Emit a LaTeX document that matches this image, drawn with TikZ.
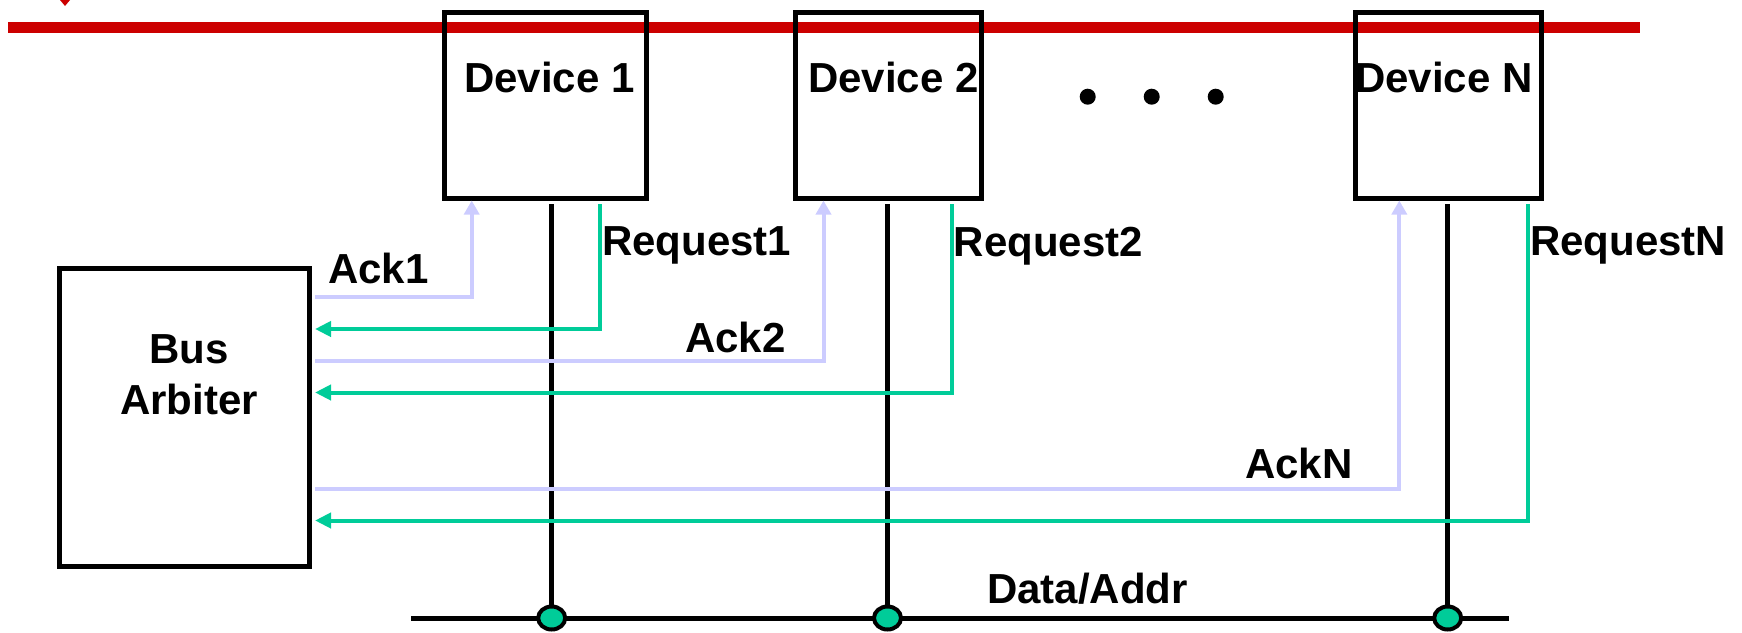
\documentclass[tikz,border=0pt]{standalone}
\usepackage{fontspec}
\setmainfont{Liberation Sans}
\usetikzlibrary{arrows.meta,shapes.geometric}

\definecolor{busred}{HTML}{CC0000}
\definecolor{reqgreen}{HTML}{00CC99}
\definecolor{acklav}{HTML}{CCCCFF}

\tikzset{
  box/.style={draw=black, line width=5pt, rectangle, inner sep=0pt},
  lbl/.style={inner sep=0pt, font=\fontsize{42}{50}\selectfont\bfseries},
  wire/.style={draw=black, line width=5pt},
  ackline/.style={draw=acklav, line width=4pt, shorten <=3.5pt,
    -{Triangle[length=14pt,width=15pt]}},
  reqline/.style={draw=reqgreen, line width=4pt, shorten <=3.5pt, shorten >=3.5pt,
    -{Triangle[length=16pt,width=15pt]}},
  tap/.style={ellipse, draw=black, fill=reqgreen, line width=4pt,
    minimum width=27pt, minimum height=23pt, inner sep=0pt},
  dotmark/.style={circle, fill=black, minimum size=16pt, inner sep=0pt},
}

\begin{document}
\begin{tikzpicture}[x=1pt, y=-1pt]
\useasboundingbox (0,0) rectangle (1742,632);

% system bus along the top
\fill[busred] (60,0) -- (70,0) -- (65,6) -- cycle;
\coordinate (redL) at (8,27.5);
\coordinate (redR) at (1640,27.5);
\draw[busred, line width=11pt] (redL) -- (redR);

% devices
\node[box, minimum width=202pt, minimum height=186pt] (dev1) at (545,105) {};
\node[box, minimum width=186pt, minimum height=186pt] (dev2) at (888,105) {};
\node[box, minimum width=186pt, minimum height=186pt] (devN) at (1448,105) {};
\node[lbl, anchor=base west] (dev1t) at (464,92) {Device 1};
\node[lbl, anchor=base west] (dev2t) at (808,92) {Device 2};
\node[lbl, anchor=base west] (devNt) at (1355,92) {Device N};

% ellipsis between the devices
\node[dotmark] (e1) at (1087.7,96.7) {};
\node[dotmark] (e2) at (1151.7,96.7) {};
\node[dotmark] (e3) at (1215.7,96.7) {};

% arbiter
\node[box, minimum width=250pt, minimum height=298pt] (arb) at (184,417.6) {};
\node[lbl, anchor=base] (arbt1) at (189,363) {Bus};
\node[lbl, anchor=base] (arbt2) at (189,414) {Arbiter};

% data/address bus and taps
\coordinate (busL) at (411,618);
\coordinate (busR) at (1509,618);
\coordinate (j1) at (551.7,618);
\coordinate (j2) at (887.5,618);
\coordinate (jN) at (1447.7,618);
\draw[wire] (busL) -- (busR);
\draw[wire, shorten <=3.5pt] (j1 |- dev1.south) -- (j1);
\draw[wire, shorten <=3.5pt] (j2 |- dev2.south) -- (j2);
\draw[wire, shorten <=3.5pt] (jN |- devN.south) -- (jN);
\node[tap] (t1) at (j1) {};
\node[tap] (t2) at (j2) {};
\node[tap] (tN) at (jN) {};
\node[lbl, anchor=base west] (datat) at (987,603) {Data/Addr};

% acknowledge lines
\coordinate (a1) at (471.7,297);
\coordinate (a2) at (823.5,361);
\coordinate (aN) at (1399.3,489);
\draw[ackline] (arb.east |- a1) -- (a1) -- (a1 |- dev1.south);
\draw[ackline] (arb.east |- a2) -- (a2) -- (a2 |- dev2.south);
\draw[ackline] (arb.east |- aN) -- (aN) -- (aN |- devN.south);

% request lines
\coordinate (r1) at (600,329);
\coordinate (r2) at (951.7,392.5);
\coordinate (rN) at (1527.7,520.5);
\draw[reqline] (r1 |- dev1.south) -- (r1) -- (arb.east |- r1);
\draw[reqline] (r2 |- dev2.south) -- (r2) -- (arb.east |- r2);
\draw[reqline] (rN |- devN.south) -- (rN) -- (arb.east |- rN);

% signal labels
\node[lbl, anchor=base west] (ack1t) at (328,283) {Ack1};
\node[lbl, anchor=base west] (ack2t) at (685,352) {Ack2};
\node[lbl, anchor=base west] (ackNt) at (1245,478) {AckN};
\node[lbl, anchor=base west] (req1t) at (602,255) {Request1};
\node[lbl, anchor=base west] (req2t) at (953.7,256) {Request2};
\node[lbl, anchor=base west] (reqNt) at (1530,255) {RequestN};
\end{tikzpicture}
\end{document}
